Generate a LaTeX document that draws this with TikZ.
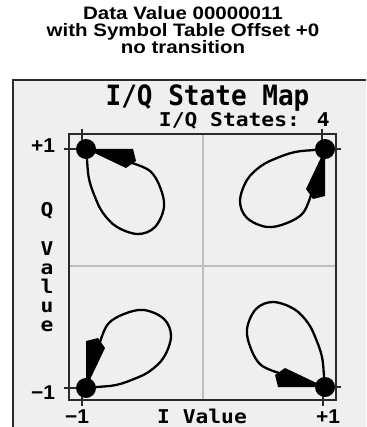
\documentclass[tikz,border=0pt]{standalone}
\usepackage{fontspec}
\setmainfont{Liberation Sans}
\newfontfamily\lcdfont{DejaVu Sans Mono}
\definecolor{screenbg}{HTML}{EFEFEF}
\definecolor{gridgray}{HTML}{BEBEBE}
\definecolor{frame}{HTML}{2A2A2A}
\tikzset{
  titletext/.style={font=\fontsize{18}{18}\selectfont\bfseries, anchor=base, xscale=1.14, inner sep=0pt},
  lcdbig/.style={font=\fontsize{28}{28}\lcdfont\bfseries, anchor=base, xscale=0.93, inner sep=0pt},
  lcdsmall/.style={font=\fontsize{19}{20}\lcdfont\bfseries, anchor=base, xscale=1.12, inner sep=0pt},
  numlabel/.style={font=\fontsize{20}{20}\selectfont\bfseries, anchor=base, xscale=1.05, inner sep=0pt},
  looppath/.style={line width=2.3pt, black},
  arrowfill/.style={fill=black},
  statedot/.style={circle, fill=black, minimum size=20pt, inner sep=0pt},
  tickline/.style={line width=1.2pt, frame},
}
\newcommand{\iqloop}{%
  \draw[looppath] plot[smooth, tension=0.6] coordinates {(0,0) (1,11) (3,30) (9,48) (17,64) (31,78) (52,85) (69,78) (78,58) (74,38) (64,22) (46,14)};
  \fill[arrowfill] (0,0) -- (47,0) -- (50,12) -- (40,19) -- cycle;
}
\begin{document}
\begin{tikzpicture}[x=1pt,y=-1pt]
\useasboundingbox (0,0) rectangle (366,427);
\fill[white] (0,0) rectangle (366,427);
% screen
\fill[screenbg] (13,80) rectangle (366,427);
\draw[line width=1.4pt, frame] (366,80) -- (13,80) -- (13,427);
% title
\node[titletext] (t1) at (183,20) {Data Value 00000011};
\node[titletext] (t2) at (183,37) {with Symbol Table Offset +0};
\node[titletext] (t3) at (183,54) {no transition};
% LCD header
\node[lcdbig] (hdr) at (207.5,106) {I/Q State Map};
\node[lcdsmall, anchor=base east] (states) at (330,126.5) {I/Q States: 4};
% grid
\draw[gridgray, line width=1.2pt] (203,134) -- (203,400);
\draw[gridgray, line width=1.2pt] (69,266) -- (336,266);
% plot box
\draw[line width=1.5pt, frame] (69,134) rectangle (336,400);
% ticks
\draw[tickline] (82,129) -- (82,149) (64,149) -- (86,149);
\draw[tickline] (322,129) -- (322,149) (325,149) -- (341,149);
\draw[tickline] (82,388) -- (82,406) (64,388) -- (86,388);
\draw[tickline] (323,387) -- (323,406) (325,387) -- (341,387);
% loops
\begin{scope}[shift={(86,149)}] \iqloop \end{scope}
\begin{scope}[shift={(325,149)}, rotate=-90] \iqloop \end{scope}
\begin{scope}[shift={(325,387)}, rotate=180] \iqloop \end{scope}
\begin{scope}[shift={(86,388)}, rotate=90] \iqloop \end{scope}
% dots
\node[statedot] (s00) at (86,149) {};
\node[statedot] (s01) at (325,149) {};
\node[statedot] (s11) at (325,387) {};
\node[statedot] (s10) at (86,388) {};
% axis labels
\node[numlabel] (yp) at (43,153) {+1};
\node[numlabel] (ym) at (43,399) {−1};
\node[numlabel] (xm) at (77,423) {−1};
\node[numlabel] (xp) at (328,423) {+1};
\node[lcdsmall] (ix) at (202,423) {I Value};
\node[lcdsmall] (q) at (47,216) {Q};
\node[lcdsmall] (v1) at (47,255) {V};
\node[lcdsmall] (v2) at (47,274) {a};
\node[lcdsmall] (v3) at (47,293) {l};
\node[lcdsmall] (v4) at (47,312) {u};
\node[lcdsmall] (v5) at (47,331) {e};
\end{tikzpicture}
\end{document}
